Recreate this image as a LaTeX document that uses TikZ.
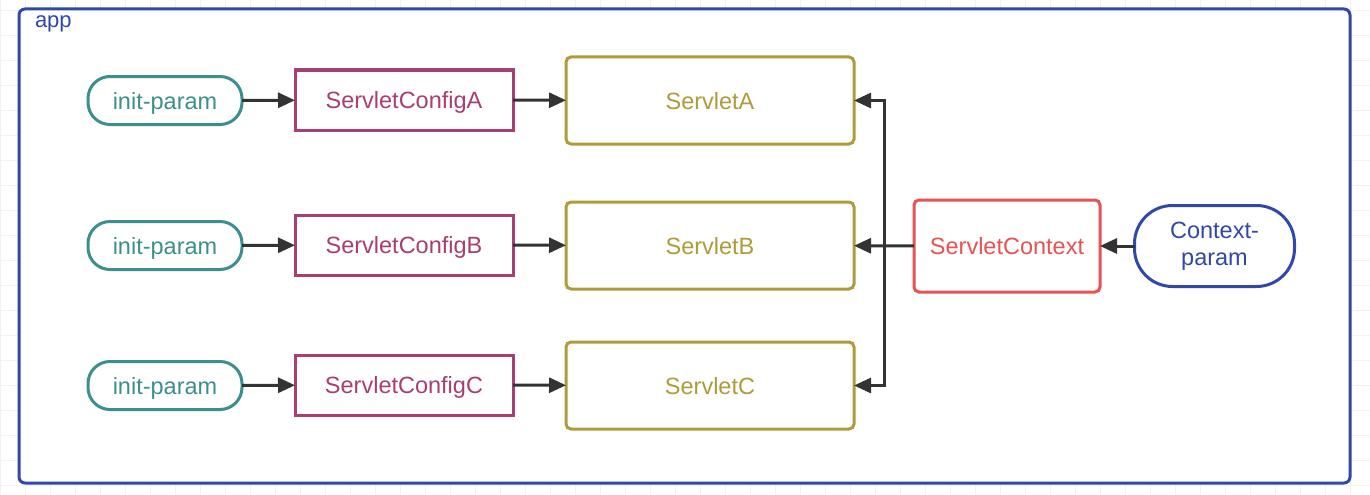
\documentclass[tikz,border=0pt]{standalone}
\usepackage{fontspec}
\setmainfont{Liberation Sans}
\usetikzlibrary{arrows.meta,calc}
\definecolor{appblue}{HTML}{3049A8}
\definecolor{teal}{HTML}{3D8F8F}
\definecolor{cfgmag}{HTML}{A83E72}
\definecolor{olive}{HTML}{B09A3A}
\definecolor{ctxred}{HTML}{E85252}
\definecolor{arr}{HTML}{333333}
\definecolor{gridc}{HTML}{F2F2F2}
\tikzset{
  lbl/.style={font=\fontsize{23.5}{27}\selectfont},
  one/.style={text height=17pt, text depth=0pt},
  pill/.style={lbl, one, draw=teal, line width=3pt, rounded corners=22pt, minimum width=154pt, minimum height=48pt, text=teal},
  cfgbox/.style={lbl, one, draw=cfgmag, line width=3pt, minimum width=218pt, minimum height=60pt, text=cfgmag},
  svbox/.style={lbl, one, draw=olive, line width=3pt, rounded corners=5pt, minimum width=288pt, minimum height=87pt, text=olive},
  ctxbox/.style={lbl, one, draw=ctxred, line width=3pt, rounded corners=5pt, minimum width=186pt, minimum height=92pt, text=ctxred},
  cpill/.style={lbl, draw=appblue, line width=3pt, rounded corners=38pt, minimum width=160pt, minimum height=81pt, text=appblue, align=center},
  link/.style={draw=arr, line width=3pt, -{Triangle[length=17pt,width=15pt]}},
  every node/.style={inner sep=0pt, outer sep=0pt}
}
\begin{document}
\begin{tikzpicture}[x=1pt,y=-1pt]
\useasboundingbox (0,0) rectangle (1370,495);
\fill[white] (0,0) rectangle (1370,495);
% faint grid
\foreach \gx in {0,25,...,1370} \draw[gridc, line width=0.6pt] (\gx,0) -- (\gx,495);
\foreach \gy in {10,35,...,495} \draw[gridc, line width=0.6pt] (0,\gy) -- (1370,\gy);
% app container
\draw[appblue, line width=3pt, fill=white, rounded corners=6pt] (19,9) rectangle (1350,483);
\node[anchor=west, text=appblue, font=\fontsize{22}{24}\selectfont] (applbl) at (35,24) {app};
% row A
\node[pill] (ipA) at (165,100.5) {init-param};
\node[cfgbox] (cfA) at (404,100) {ServletConfigA};
\node[svbox] (svA) at (710,100.5) {ServletA};
% row B
\node[pill] (ipB) at (165,245.5) {init-param};
\node[cfgbox] (cfB) at (404,245) {ServletConfigB};
\node[svbox] (svB) at (710,245.5) {ServletB};
% row C
\node[pill] (ipC) at (165,385.5) {init-param};
\node[cfgbox] (cfC) at (404,385) {ServletConfigC};
\node[svbox] (svC) at (710,385.5) {ServletC};
% context
\node[ctxbox] (ctx) at (1007,246) {ServletContext};
\node[cpill] (cp) at (1214.5,246) {Context-\\param};
\coordinate (jB) at (884,246);
% connectors
\draw[link] (ipA) -- (cfA);
\draw[link] (cfA) -- (svA);
\draw[link] (ipB) -- (cfB);
\draw[link] (cfB) -- (svB);
\draw[link] (ipC) -- (cfC);
\draw[link] (cfC) -- (svC);
\draw[link] (cp) -- (ctx);
\draw[link] (ctx) -- (svB);
\draw[link] (jB) |- (svA.east);
\draw[link] (jB) |- (svC.east);
\end{tikzpicture}
\end{document}
